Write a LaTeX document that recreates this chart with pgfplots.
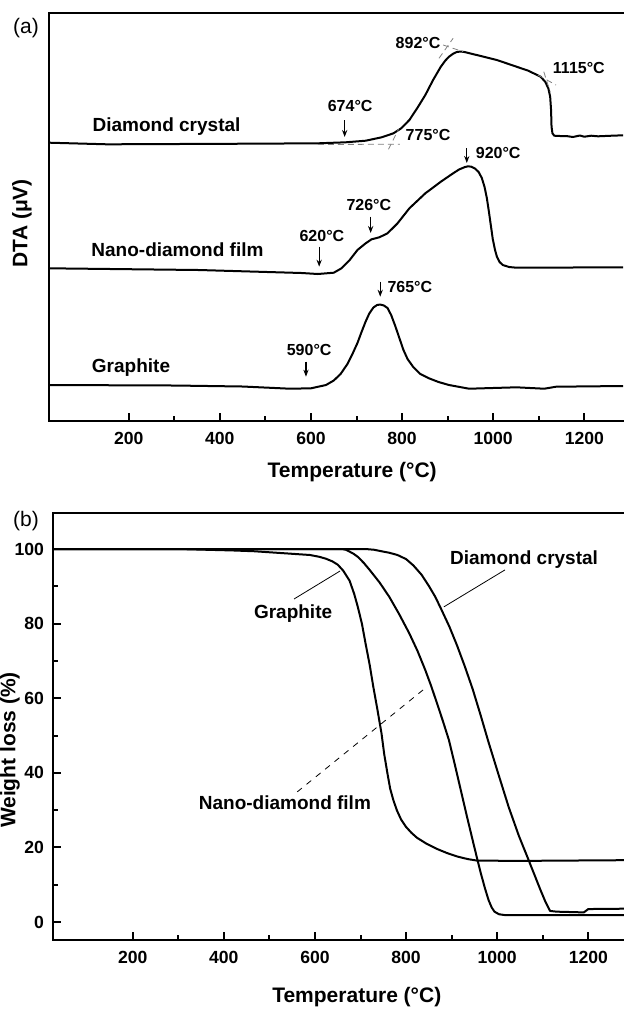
\documentclass[border=0pt]{standalone}
\usepackage{fontspec}
\setmainfont{Liberation Sans}
\usepackage{pgfplots}
\pgfplotsset{compat=1.18}
\usetikzlibrary{arrows.meta}

% 1 px of the reference = 0.5pt
\newcommand{\degC}[1]{#1°C}
\newcommand{\annfont}{\bfseries\fontsize{8}{8}\selectfont}
\newcommand{\namefont}{\bfseries\fontsize{9.5}{10}\selectfont}

\pgfplotsset{
  thermo/.style={
    scale only axis, width=290.45pt, xmin=25, xmax=1300,
    axis line style={line width=1.1pt},
    xtick={200,400,...,1200}, minor x tick num=1,
    tick align=inside, xtick pos=bottom, ytick pos=left,
    major tick length=4pt, minor tick length=2.5pt,
    every tick/.style={black, line width=1pt},
    tick label style={font=\bfseries\fontsize{8.8}{9}\selectfont},
    xticklabel style={yshift=-2pt},
    /pgf/number format/assume math mode=true,
    /pgf/number format/1000 sep={},
    label style={font=\bfseries\fontsize{10.5}{11}\selectfont},
    cycle list={black\\},
    no markers,
    every axis plot post/.append style={line width=1pt, line join=round},
  },
}
\tikzset{
  arr/.style={-{Stealth[length=3.5pt,width=2.6pt]}, line width=0.6pt},
  tang/.style={gray, densely dashed, line width=0.4pt},
}

\begin{document}
\begin{tikzpicture}
\path[use as bounding box] (0,0) rectangle (311.5pt,-504.5pt);

% ---------------- (a) DTA ----------------
\begin{axis}[thermo,
  at={(24.5pt,-210.5pt)}, anchor=south west,
  height=204pt, ymin=0, ymax=408, ytick=\empty,
  xlabel={Temperature (°C)},
  xlabel style={at={(axis description cs:0.522,-0.124)}, anchor=center},
  ylabel={DTA (μV)},
  ylabel style={at={(axis description cs:-0.0465,0.485)}, anchor=center},
]
% diamond crystal
\addplot coordinates {(26,278.3)(153,276.7)(458,277.3)(615,277.7)(676,278.7)(720,280.3)
  (755,283.7)(781,287.7)(798,292.7)(816,301)(833,312.7)(851,326)(868,341)(885,354.3)
  (895,360.5)(903,364.3)(912,367.3)(920,369)(929,369.5)(938,368.9)(1008,361)(1077,350.3)
  (1104,344.3)(1114,339.3)(1121,332.7)(1125,324.3)(1127,311)(1128,294.3)(1130,287.7)
  (1134,285.3)(1147,285)(1160,285)(1175,284)(1190,285.5)(1200,284.3)(1215,285.3)
  (1230,284.7)(1260,285.3)(1285,285.7)};
% nano-diamond film
\addplot coordinates {(26,152.7)(354,151)(580,148)(615,147)(650,148.3)(667,152.7)(685,161)
  (702,171)(720,177.7)(733,181.7)(750,183.7)(768,187.7)(790,197.7)(816,212.7)(851,227.7)
  (885,239.3)(912,247.7)(925,251.5)(938,254)(945,254.7)(952,254.3)(960,252.5)(968,249)
  (975,243)(981,234)(986,223)(990,211)(995,195)(999,182)(1004,171)(1008,164.5)
  (1014,159)(1021,156)(1035,154)(1051,153.3)(1285,153.7)};
% graphite
\addplot coordinates {(26,36)(300,35.5)(450,34.5)(554,32.3)(600,32.7)(633,36)(650,40.5)
  (665,47)(680,57)(692,68)(702,78)(711,89)(720,99.5)(728,107.5)(737,113.5)(745,116)
  (752,116.5)(760,115.5)(768,113)(776,106)(785,95)(794,83)(803,71)(812,62)(824,54.3)
  (840,47)(859,42.7)(880,39)(903,36)(947,32.3)(1051,33.7)(1112,32.3)(1138,34.3)(1285,35)};

% tangents
\draw[tang] (axis cs:615,276.5) -- (axis cs:795,276.8);
\draw[tang] (axis cs:770,271.7) -- (axis cs:792,291.7);
\draw[tang] (axis cs:881,362.7) -- (axis cs:912,382.7);
\draw[tang] (axis cs:890,376) -- (axis cs:934,369.3);
\draw[tang] (axis cs:1098,346) -- (axis cs:1138,336);
\draw[tang] (axis cs:1111,349.3) -- (axis cs:1125,329.3);

% labels
\node[font=\namefont] at (axis cs:283,294) {Diamond crystal};
\node[font=\namefont] at (axis cs:307,171.7) {Nano-diamond film};
\node[font=\namefont] at (axis cs:205,53) {Graphite};

\node[font=\annfont] at (axis cs:686,315) {\degC{674}};
\draw[arr] (axis cs:674,301) -- (axis cs:674,284);
\node[font=\annfont] at (axis cs:857,286) {\degC{775}};
\node[font=\annfont] at (axis cs:835,378) {\degC{892}};
\node[font=\annfont] at (axis cs:1188,353) {\degC{1115}};
\node[font=\annfont] at (axis cs:1011,268) {\degC{920}};
\draw[arr] (axis cs:942,273) -- (axis cs:942,258);
\node[font=\annfont] at (axis cs:727,216) {\degC{726}};
\draw[arr] (axis cs:731,204.3) -- (axis cs:731,188);
\node[font=\annfont] at (axis cs:624,185) {\degC{620}};
\draw[arr] (axis cs:618,174.3) -- (axis cs:618,154.3);
\node[font=\annfont] at (axis cs:817,134.3) {\degC{765}};
\draw[arr] (axis cs:752,139.3) -- (axis cs:752,124.3);
\node[font=\annfont] at (axis cs:596,71) {\degC{590}};
\draw[arr] (axis cs:589,59.3) -- (axis cs:589,44.3);
\end{axis}

% ---------------- (b) TGA ----------------
\begin{axis}[thermo,
  at={(26.5pt,-470pt)}, anchor=south west,
  height=213.5pt, ymin=-4.8, ymax=109.65,
  ytick={0,20,...,100}, minor y tick num=1,
  yticklabel style={xshift=-1pt},
  xlabel={Temperature (°C)},
  xlabel style={at={(axis description cs:0.523,-0.1335)}, anchor=center},
  ylabel={Weight loss (\%)},
  ylabel style={at={(axis description cs:-0.074,0.445)}, anchor=center},
]
% graphite
\addplot coordinates {(26,100)(300,100)(423,99.6)(467,99.4)(589,98.4)(610,97.9)(624,97.4)
  (638,96.7)(650,95.8)(662,94.2)(676,91.5)(686,88)(694,84.5)(703,80)(711,74.7)(720,69)
  (728,63.1)(737,57)(746,50.6)(752,45)(759,39.9)(765,35.8)(772,32.7)(780,29.9)(789,27.5)
  (800,25.5)(812,23.9)(824,22.6)(845,21)(868,19.6)(890,18.5)(912,17.6)(935,16.9)
  (955,16.5)(1042,16.4)(1285,16.6)};
% nano-diamond film
\addplot coordinates {(26,100)(659,100)(668,99.8)(676,99.3)(685,98.7)(694,97.9)(707,96.3)
  (720,94.4)(742,91)(763,87.2)(785,82.5)(807,77.4)(825,72.7)(842,67.6)(855,63.3)(868,58.6)
  (881,53.8)(894,48.8)(907,42.2)(920,35.4)(933,28.6)(946,22)(955,17.5)(964,13.1)(973,9.1)
  (981,5.9)(988,3.9)(994,2.8)(1004,2.1)(1016,1.9)(1285,1.9)};
% diamond crystal
\addplot coordinates {(26,100)(711,100)(730,99.8)(746,99.4)(763,99)(781,98.4)(800,97.3)
  (816,95.6)(834,93.1)(850,90.1)(864,87.2)(877,83.9)(895,79.2)(912,74.1)(929,68.5)
  (946,62.5)(963,55.7)(981,48.2)(1003,39.5)(1025,30.9)(1047,23.3)(1069,16.6)(1082,12.6)
  (1095,8.6)(1106,5.4)(1116,3.0)(1130,2.8)(1190,2.6)(1200,3.5)(1285,3.6)};

\draw[line width=0.4pt] (axis cs:554,86.6) -- (axis cs:655,94.1);
\draw[line width=0.4pt] (axis cs:1017,94.4) -- (axis cs:883,84.5);
\draw[line width=0.4pt, dashed] (axis cs:561,34.9) -- (axis cs:846,63.1);
\node[font=\namefont] at (axis cs:552,82.8) {Graphite};
\node[font=\namefont] at (axis cs:1059,97.1) {Diamond crystal};
\node[font=\namefont] at (axis cs:534,32) {Nano-diamond film};
\end{axis}

\node[font=\fontsize{10.5}{11}\selectfont] at (13pt,-14pt) {(a)};
\node[font=\fontsize{10.5}{11}\selectfont] at (13pt,-260.5pt) {(b)};
\end{tikzpicture}
\end{document}
